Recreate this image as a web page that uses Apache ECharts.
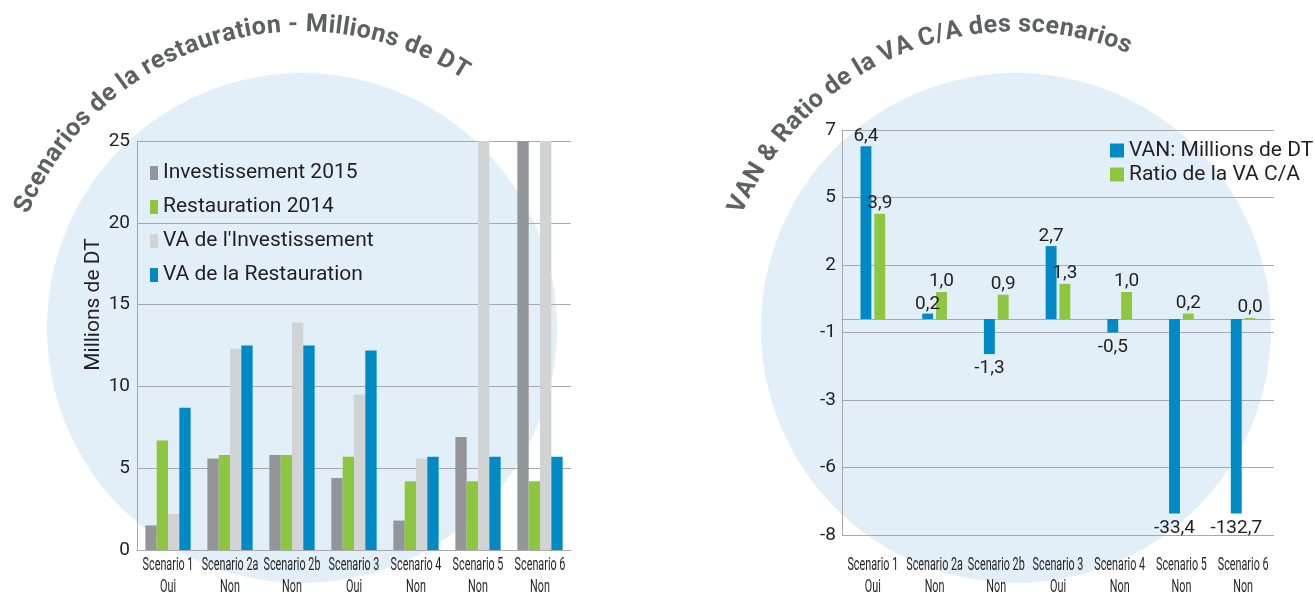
<!DOCTYPE html>
<html>
<head>
<meta charset="utf-8">
<script src="https://cdn.jsdelivr.net/npm/echarts@6/dist/echarts.min.js"></script>
<style>
html, body { margin: 0; padding: 0; background: #fff; }
#main { width: 1315px; height: 595px; }
</style>
</head>
<body>
<div id="main"></div>
<script>
// catégories communes
let scenarios = ['Scenario 1', 'Scenario 2a', 'Scenario 2b', 'Scenario 3', 'Scenario 4', 'Scenario 5', 'Scenario 6'];
let decisions = ['Oui', 'Non', 'Non', 'Oui', 'Non', 'Non', 'Non'];

// graphique de gauche (Millions de DT)
let invest2015 = [1.5, 5.6, 5.8, 4.4, 1.8, 6.9, 30];
let restau2014 = [6.7, 5.8, 5.8, 5.7, 4.2, 4.2, 4.2];
let vaInvest = [2.2, 12.3, 13.9, 9.5, 5.6, 39.1, 138.4];
let vaRestau = [8.7, 12.5, 12.5, 12.2, 5.7, 5.7, 5.7];

// graphique de droite
let van = [6.4, 0.2, -1.3, 2.7, -0.5, -33.4, -132.7];
let ratio = [3.9, 1.0, 0.9, 1.3, 1.0, 0.2, 0.04];
// les barres hors échelle sont coupées à cette valeur
let vanFloor = -7.2;

let textColor = '#231f20';
let gridColor = '#a7a9ac';
let font = 'Roboto';

let chart = echarts.init(document.getElementById('main'));

function fmt(v) {
    return v.toFixed(1).replace('.', ',');
}

// texte courbé : un élément texte par caractère le long d'un arc
function arcText(text, cx, cy, r, a0, a1, fontStr) {
    let ctx = document.createElement('canvas').getContext('2d');
    ctx.font = fontStr;
    let chars = Array.from(text);
    let widths = chars.map(c => ctx.measureText(c).width);
    let dist = [];
    let acc = 0;
    widths.forEach(w => { dist.push(acc + w / 2); acc += w; });
    let span = (a1 - a0) * Math.PI / 180;
    let d0 = dist[0];
    let dl = dist[dist.length - 1];
    return chars.map((c, i) => {
        let a = a0 * Math.PI / 180 + (dist[i] - d0) / (dl - d0) * span;
        return {
            type: 'text',
            x: cx + r * Math.sin(a),
            y: cy - r * Math.cos(a),
            rotation: -a,
            z: 10,
            silent: true,
            style: {
                text: c,
                font: fontStr,
                fill: '#5f6062',
                align: 'center',
                verticalAlign: 'middle',
                textAlign: 'center',
                textVerticalAlign: 'middle'
            }
        };
    });
}

let titleFont = 'bold 25px ' + font;
let graphics = [
    { type: 'circle', shape: { cx: 302, cy: 328, r: 255 }, style: { fill: '#e2eff8' }, z: -1, silent: true },
    { type: 'circle', shape: { cx: 1016, cy: 328, r: 255 }, style: { fill: '#e2eff8' }, z: -1, silent: true }
]
    .concat(arcText('Scenarios de la restauration - Millions de DT', 302, 328, 303, -66, 31.5, titleFont))
    .concat(arcText('VAN & Ratio de la VA C/A des scenarios', 1016, 328, 303, -66, 21, titleFont));

let option = {
    animation: false,
    textStyle: { fontFamily: font },
    graphic: graphics,
    grid: [
        { left: 137, top: 141, width: 434, height: 409 },
        { left: 842, top: 130, width: 432, height: 405 }
    ],
    legend: [
        {
            data: ['Investissement 2015', 'Restauration 2014', "VA de l'Investissement", 'VA de la Restauration'],
            orient: 'vertical',
            left: 150,
            top: 162,
            padding: 0,
            icon: 'rect',
            itemWidth: 8,
            itemHeight: 14,
            itemGap: 12,
            selectedMode: false,
            textStyle: { fontSize: 21, lineHeight: 22, color: textColor, fontFamily: font }
        },
        {
            data: ['VAN: Millions de DT', 'Ratio de la VA C/A'],
            orient: 'vertical',
            left: 1110,
            top: 140,
            padding: 0,
            icon: 'rect',
            itemWidth: 14,
            itemHeight: 14,
            itemGap: 3,
            selectedMode: false,
            textStyle: { fontSize: 21, lineHeight: 20, color: textColor, fontFamily: font }
        }
    ],
    xAxis: [
        {
            type: 'category',
            gridIndex: 0,
            data: scenarios,
            axisLine: { lineStyle: { color: gridColor } },
            axisTick: { length: 5, lineStyle: { color: gridColor } },
            axisLabel: { show: false }
        },
        {
            type: 'category',
            gridIndex: 1,
            data: scenarios,
            axisLine: { onZero: true, lineStyle: { color: gridColor } },
            axisTick: { length: 5, lineStyle: { color: gridColor } },
            axisLabel: { show: false }
        }
    ],
    yAxis: [
        {
            type: 'value',
            gridIndex: 0,
            min: 0,
            max: 25,
            interval: 5,
            name: 'Millions de DT',
            nameLocation: 'middle',
            nameGap: 33,
            nameTextStyle: { fontSize: 21, color: textColor, padding: [0, 0, 0, 82] },
            axisLine: { show: true, lineStyle: { color: gridColor } },
            axisTick: { show: false },
            axisLabel: { fontSize: 19, color: textColor, margin: 7 },
            splitLine: { lineStyle: { color: gridColor } }
        },
        {
            type: 'value',
            gridIndex: 1,
            min: -8,
            max: 7,
            interval: 2.5,
            axisLine: { show: true, lineStyle: { color: gridColor } },
            axisTick: { show: false },
            axisLabel: {
                fontSize: 19,
                color: textColor,
                margin: 6,
                formatter: v => String(v < 0 ? -Math.round(-v) : Math.round(v))
            },
            splitLine: { lineStyle: { color: gridColor } }
        }
    ],
    series: [
        {
            name: 'Investissement 2015', type: 'bar', xAxisIndex: 0, yAxisIndex: 0,
            data: invest2015, itemStyle: { color: '#939598' }, barGap: '0%', barCategoryGap: '27%'
        },
        {
            name: 'Restauration 2014', type: 'bar', xAxisIndex: 0, yAxisIndex: 0,
            data: restau2014, itemStyle: { color: '#8dc63f' }
        },
        {
            name: "VA de l'Investissement", type: 'bar', xAxisIndex: 0, yAxisIndex: 0,
            data: vaInvest, itemStyle: { color: '#d1d3d4' }
        },
        {
            name: 'VA de la Restauration', type: 'bar', xAxisIndex: 0, yAxisIndex: 0,
            data: vaRestau, itemStyle: { color: '#008ac5' }
        },
        {
            name: 'VAN: Millions de DT', type: 'bar', xAxisIndex: 1, yAxisIndex: 1,
            barGap: '27%', barCategoryGap: '60%',
            itemStyle: { color: '#008ac5' },
            data: van.map(v => ({
                value: Math.max(v, vanFloor),
                label: { position: v < 0 ? 'bottom' : 'top', distance: v < 0 ? 5 : 0 }
            })),
            label: {
                show: true, fontSize: 19, color: textColor,
                formatter: p => fmt(van[p.dataIndex])
            }
        },
        {
            name: 'Ratio de la VA C/A', type: 'bar', xAxisIndex: 1, yAxisIndex: 1,
            itemStyle: { color: '#8dc63f' },
            data: ratio,
            label: {
                show: true, position: 'top', distance: 1, fontSize: 19, color: textColor,
                formatter: p => fmt(ratio[p.dataIndex])
            }
        }
    ]
};

chart.setOption(option);

// étiquettes de catégories en police étroite, placées avec l'échelle des axes
function categoryLabels(xAxisIndex, yAxisIndex, yBottom, gap) {
    let top = chart.convertToPixel({ yAxisIndex: yAxisIndex }, yBottom) + gap;
    return scenarios.map((s, i) => ({
        type: 'text',
        x: chart.convertToPixel({ xAxisIndex: xAxisIndex }, s),
        y: top,
        scaleX: 0.6,
        silent: true,
        style: {
            text: s + '\n' + decisions[i],
            font: '18px ' + font,
            lineHeight: 22,
            fill: textColor,
            align: 'center',
            verticalAlign: 'top',
            textAlign: 'center',
            textVerticalAlign: 'top'
        }
    }));
}

chart.setOption({
    graphic: graphics
        .concat(categoryLabels(0, 0, 0, 4))
        .concat(categoryLabels(1, 1, -8, 19))
});
</script>
</body>
</html>
